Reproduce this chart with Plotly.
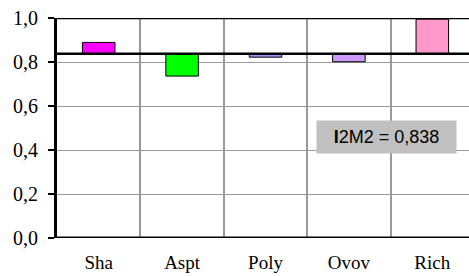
import plotly.graph_objects as go

categories = ["Sha", "Aspt", "Poly", "Ovov", "Rich"]
values = [0.889, 0.736, 0.822, 0.801, 0.995]
baseline = 0.838
colors = ["#FF00FF", "#00FF00", "#9999FF", "#CC99FF", "#FF99CC"]
y_ticks = [0.0, 0.2, 0.4, 0.6, 0.8, 1.0]
y_tick_text = ["0,0", "0,2", "0,4", "0,6", "0,8", "1,0"]
label_text = "<b>I</b>2M2 = 0,838"

SERIF = "Liberation Serif, Times New Roman, serif"

xs = list(range(len(categories)))
fig = go.Figure()
fig.add_trace(go.Bar(
    x=xs, y=[v - baseline for v in values], base=baseline,
    width=0.39, marker=dict(color=colors, line=dict(color="black", width=1)),
    showlegend=False, hoverinfo="skip",
))

fig.update_layout(
    width=469, height=276,
    margin=dict(l=57, r=0, t=18, b=38, autoexpand=False),
    plot_bgcolor="white", paper_bgcolor="white",
    font=dict(family=SERIF, size=19, color="black"),
    xaxis=dict(
        range=[-0.5, 4.44], tickmode="array", tickvals=xs, ticktext=categories,
        showgrid=False, zeroline=False, showline=False, ticks="",
        tickfont=dict(family=SERIF, size=19), automargin=False,
        ticklabelstandoff=11,
        minor=dict(tickmode="array", tickvals=[0.5, 1.5, 2.5, 3.5],
                   showgrid=True, gridcolor="#999999", gridwidth=2, ticks=""),
    ),
    yaxis=dict(
        range=[0, 1], tickmode="array", tickvals=y_ticks, ticktext=y_tick_text,
        showgrid=True, gridcolor="#999999", gridwidth=1, zeroline=False,
        showline=True, linecolor="black", linewidth=3,
        ticks="outside", ticklen=6, tickcolor="black", tickwidth=1.5,
        tickfont=dict(family=SERIF, size=20), automargin=False,
        ticklabelstandoff=6,
    ),
    shapes=[
        dict(type="line", xref="paper", yref="y", x0=0, x1=1, y0=baseline, y1=baseline,
             line=dict(color="black", width=2.5), layer="above"),
        dict(type="line", xref="paper", yref="y", x0=0, x1=1, y0=1, y1=1,
             line=dict(color="black", width=2.5), layer="above"),
        dict(type="line", xref="paper", yref="y", x0=0, x1=1, y0=0, y1=0,
             line=dict(color="black", width=3), layer="above"),
    ],
    annotations=[
        dict(x=3.45, y=0.459, xref="x", yref="y", text=label_text, showarrow=False,
             xanchor="center", yanchor="middle",
             font=dict(family="Arial", size=18, color="black"),
             bgcolor="#C0C0C0", borderpad=5, width=129, height=22),
    ],
)

fig.write_html("out.html", config={"displayModeBar": False},
               post_script="document.body.style.margin='0';")
